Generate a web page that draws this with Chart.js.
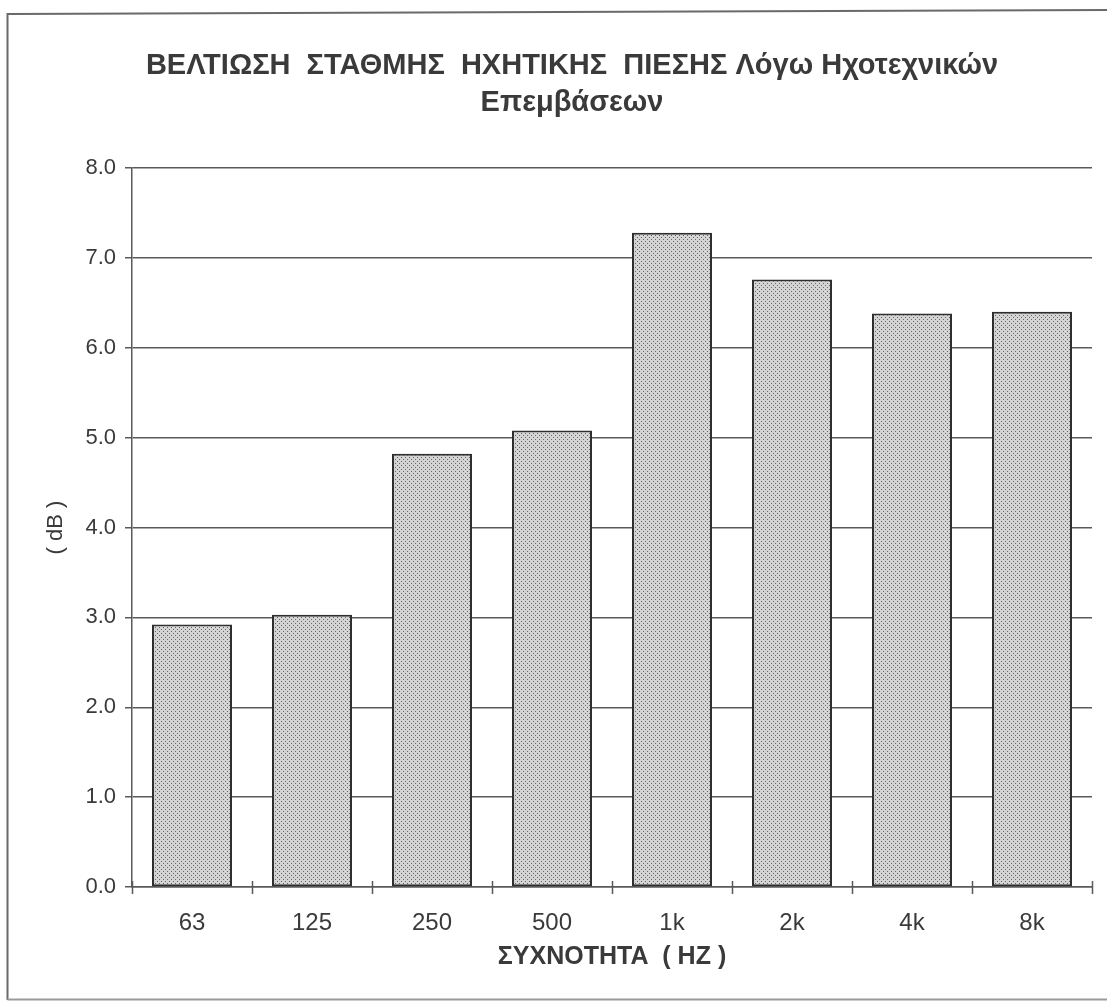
<!DOCTYPE html>
<html>
<head>
<meta charset="utf-8">
<script src="https://cdn.jsdelivr.net/npm/chart.js@4.4.1/dist/chart.umd.min.js"></script>
<style>
  html, body { margin: 0; padding: 0; background: #ffffff; }
  #wrap { width: 1107px; height: 1007px; }
</style>
</head>
<body>
<div id="wrap"><canvas id="c" width="1107" height="1007"></canvas></div>
<script>
// Frequency bands (octave centres)
const categories = ['63', '125', '250', '500', '1k', '2k', '4k', '8k'];
// Improvement of sound pressure level per band, dB
const improvementDb = [2.92, 3.03, 4.82, 5.08, 7.28, 6.76, 6.38, 6.40];
// Value axis
const yMin = 0;
const yMax = 8;
const yStep = 1;

const titleLines = ['ΒΕΛΤΙΩΣΗ  ΣΤΑΘΜΗΣ  ΗΧΗΤΙΚΗΣ  ΠΙΕΣΗΣ Λόγω Ηχοτεχνικών', 'Επεμβάσεων'];
const xTitle = 'ΣΥΧΝΟΤΗΤΑ  ( ΗΖ )';
const yTitle = '( dB )';

const FONT = "'Liberation Sans', Arial, sans-serif";
const INK = '#3a3a3a';
const GRID = '#5a5a5a';

// Stippled grey fill for the bars
function stipple() {
  const t = document.createElement('canvas');
  t.width = 4; t.height = 4;
  const g = t.getContext('2d');
  g.fillStyle = '#d4d4d4';
  g.fillRect(0, 0, 4, 4);
  g.fillStyle = '#666666';
  g.fillRect(1, 1, 1, 1);
  g.fillRect(3, 3, 1, 1);
  return g.createPattern(t, 'repeat');
}

// Page frame, white background and title offset
const framePlugin = {
  id: 'frame',
  afterLayout(chart) {
    const t = chart.titleBlock;
    if (t) { t.left += 26; t.right += 26; }
  },
  beforeDraw(chart) {
    const ctx = chart.ctx;
    ctx.save();
    ctx.fillStyle = '#ffffff';
    ctx.fillRect(0, 0, chart.width, chart.height);
    ctx.strokeStyle = '#6a6a6a';
    ctx.lineWidth = 2;
    ctx.beginPath();
    ctx.moveTo(7.5, 1000);
    ctx.lineTo(7.5, 14);
    ctx.lineTo(chart.width, 10);
    ctx.stroke();
    ctx.strokeStyle = '#9a9a9a';
    ctx.beginPath();
    ctx.moveTo(7.5, 999.5);
    ctx.lineTo(chart.width, 999.5);
    ctx.stroke();
    ctx.restore();
  },
  // category separators crossing the baseline
  afterDatasetsDraw(chart) {
    const x = chart.scales.x;
    const ctx = chart.ctx;
    const n = categories.length;
    const step = (x.right - x.left) / n;
    ctx.save();
    ctx.strokeStyle = GRID;
    ctx.lineWidth = 1.5;
    ctx.beginPath();
    for (let i = 0; i <= n; i++) {
      const px = Math.round(x.left + i * step) + 0.5;
      ctx.moveTo(px, x.top - 6);
      ctx.lineTo(px, x.top + 7);
    }
    ctx.stroke();
    ctx.restore();
  }
};

new Chart(document.getElementById('c'), {
  type: 'bar',
  data: {
    labels: categories,
    datasets: [{
      data: improvementDb,
      backgroundColor: stipple(),
      borderColor: '#2e2e2e',
      borderWidth: 2,
      borderSkipped: false,
      categoryPercentage: 1,
      barPercentage: 0.667
    }]
  },
  options: {
    responsive: false,
    animation: false,
    devicePixelRatio: 1,
    layout: { padding: { left: 0, right: 15, top: 0, bottom: 0 } },
    plugins: {
      legend: { display: false },
      tooltip: { enabled: false },
      title: {
        display: true,
        text: titleLines,
        color: INK,
        font: { family: FONT, size: 29, weight: 'bold', lineHeight: 37 / 29 },
        padding: { top: 47, bottom: 47 }
      }
    },
    scales: {
      x: {
        offset: true,
        grid: { display: false },
        border: { display: true, color: GRID, width: 1.5 },
        ticks: { color: INK, font: { family: FONT, size: 24 }, padding: 14, maxRotation: 0 },
        title: {
          display: true,
          text: xTitle,
          color: INK,
          font: { family: FONT, size: 25, weight: 'bold' },
          padding: { top: 0, bottom: 35 }
        },
        afterFit(s) { s.height = 120; }
      },
      y: {
        min: yMin,
        max: yMax,
        ticks: {
          stepSize: yStep,
          color: INK,
          font: { family: FONT, size: 22 },
          padding: 9,
          callback: v => Number(v).toFixed(1)
        },
        grid: { color: GRID, lineWidth: 1.5, tickLength: 7, tickColor: GRID },
        border: { display: true, color: GRID, width: 1.5 },
        title: {
          display: true,
          text: yTitle,
          color: INK,
          font: { family: FONT, size: 22 },
          padding: { top: 43, bottom: 0 }
        },
        afterFit(s) { s.width = 132; }
      }
    }
  },
  plugins: [framePlugin]
});
</script>
</body>
</html>
